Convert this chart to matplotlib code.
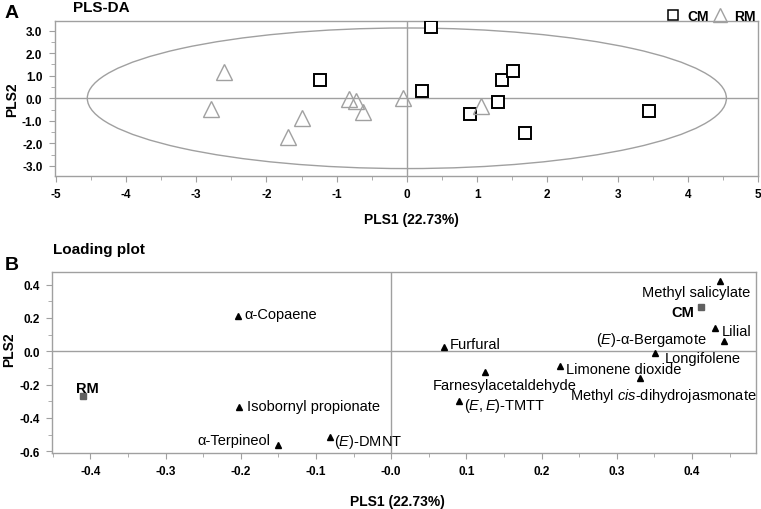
import numpy as np
import matplotlib
matplotlib.use("Agg")
from matplotlib import pyplot as plt
from matplotlib.patches import Ellipse
from matplotlib.ticker import MultipleLocator, FixedLocator, FixedFormatter

plt.rcParams['font.family'] = ['Liberation Sans', 'DejaVu Sans']
plt.rcParams['mathtext.fontset'] = 'custom'
plt.rcParams['mathtext.rm'] = 'Liberation Sans'
plt.rcParams['mathtext.it'] = 'Liberation Sans:italic'
plt.rcParams['axes.unicode_minus'] = False

# panel A : PLS-DA scores
cm_x = [0.35, 0.22, 1.36, 1.51, 1.30, 0.90, 1.68, 3.45, -1.23]
cm_y = [3.16, 0.34, 0.81, 1.21, -0.16, -0.70, -1.53, -0.56, 0.79]
rm_x = [-2.60, -2.79, -1.50, -1.69, -0.82, -0.72, -0.63, -0.05, 1.05]
rm_y = [1.16, -0.47, -0.86, -1.70, -0.03, -0.10, -0.62, 0.03, -0.34]
ellipse_a = 4.55
ellipse_b = 3.12

# panel B : loading plot
compounds = ["α-Copaene", "Isobornyl propionate", "α-Terpineol", "($\\it{E}$)-DMNT",
             "Furfural", "Farnesylacetaldehyde", "($\\it{E,E}$)-TMTT", "Limonene dioxide",
             "Longifolene", "Methyl $\\it{cis}$-dihydrojasmonate", "Methyl salicylate",
             "Lilial", "($\\it{E}$)-α-Bergamote"]
load_x = [-0.204, -0.203, -0.151, -0.081, 0.070, 0.125, 0.090, 0.224,
          0.351, 0.331, 0.437, 0.431, 0.442]
load_y = [0.21, -0.336, -0.56, -0.517, 0.028, -0.126, -0.30, -0.09,
          -0.01, -0.162, 0.422, 0.14, 0.06]
groups = ["RM", "CM"]
group_x = [-0.41, 0.412]
group_y = [-0.267, 0.268]

xticks_b = [-0.4, -0.3, -0.2, -0.1, 0.0, 0.1, 0.2, 0.3, 0.4]
xticklabels_b = ["-0.4", "-0.3", "-0.2", "-0.1", "-0.0", "0.1", "0.2", "0.3", "0.4"]

# label offsets in pixels (dx, dy, ha)
offsets = [(7, 2, "left"), (8, 1, "left"), (-7, 5, "right"), (4, -4, "left"),
           (6, 3, "left"), (19, -13, "center"), (5, -4, "left"), (6, -3, "left"),
           (10, -5, "left"), (23, -17, "center"), (30, -11, "right"),
           (6, -3, "left"), (-17, 2, "right")]
group_offsets = [(5, 8, "center"), (-7, -5, "right")]

GRAY = "#a0a0a0"


def style_axes(ax):
    for s in ax.spines.values():
        s.set_color(GRAY)
        s.set_linewidth(1)
    ax.tick_params(which="both", direction="out", color=GRAY, labelsize=8.5)
    ax.tick_params(which="major", length=4, pad=5)
    ax.tick_params(which="minor", length=3)
    for lab in ax.get_xticklabels() + ax.get_yticklabels():
        lab.set_fontweight("bold")


fig = plt.figure(figsize=(7.61, 5.10), dpi=100)
W, H = 761.0, 510.0

# ---------- panel A
axA = fig.add_axes([55 / W, 1 - 177 / H, 703 / W, 155 / H])
axA.set_xlim(-5.01, 5.0)
axA.set_ylim(-3.45, 3.43)
axA.axhline(0, color=GRAY, lw=1, zorder=1)
axA.axvline(0, color=GRAY, lw=1, zorder=1)
axA.add_patch(Ellipse((0, 0), 2 * ellipse_a, 2 * ellipse_b, fill=False,
                      edgecolor=GRAY, lw=1, zorder=1))
axA.plot(cm_x, cm_y, "s", ms=8, mfc="white", mec="black", mew=1.4, ls="none",
         label="CM", zorder=3)
axA.plot(rm_x, rm_y, "^", ms=11, mfc="none", mec=GRAY, mew=1, ls="none",
         label="RM", zorder=3)
axA.xaxis.set_major_locator(MultipleLocator(1))
axA.xaxis.set_minor_locator(MultipleLocator(0.5))
axA.yaxis.set_major_locator(MultipleLocator(1))
axA.yaxis.set_minor_locator(MultipleLocator(0.5))
axA.yaxis.set_major_formatter(matplotlib.ticker.FormatStrFormatter("%.1f"))
style_axes(axA)
leg = axA.legend(loc="lower right", bbox_to_anchor=(0.996, 0.985), ncol=2, frameon=False,
                 handletextpad=0.55, columnspacing=0.35, borderpad=0, borderaxespad=0,
                 handlelength=0.9, markerscale=0.9,
                 prop={"weight": "bold", "size": 10})
leg.legend_handles[0].set_markeredgewidth(1.1)

fig.text(12 / W, 1 - 14 / H, "A", fontsize=14, fontweight="bold", ha="center", va="center")
fig.text(73 / W, 1 - 8 / H, "PLS-DA", fontsize=11, fontweight="bold", ha="left", va="center")
fig.text(411 / W, 1 - 220 / H, "PLS1 (22.73%)", fontsize=10, fontweight="bold",
         ha="center", va="center")
fig.text(12 / W, 1 - 100 / H, "PLS2", fontsize=10, fontweight="bold", rotation=90,
         ha="center", va="center")

# ---------- panel B
axB = fig.add_axes([52 / W, 1 - 454 / H, 704 / W, 180.7 / H])
axB.set_xlim(-0.451, 0.485)
axB.set_ylim(-0.61, 0.474)
axB.axhline(0, color=GRAY, lw=1, zorder=1)
axB.axvline(0, color=GRAY, lw=1, zorder=1)
axB.plot(load_x, load_y, "^", ms=5, color="black", ls="none", zorder=3)
axB.plot(group_x, group_y, "s", ms=4, color="#606060", ls="none", zorder=3)
for name, x, y, (dx, dy, ha) in zip(compounds, load_x, load_y, offsets):
    axB.annotate(name, (x, y), xytext=(dx, dy), textcoords="offset pixels",
                 ha=ha, va="center", fontsize=10.5)
for name, x, y, (dx, dy, ha) in zip(groups, group_x, group_y, group_offsets):
    axB.annotate(name, (x, y), xytext=(dx, dy), textcoords="offset pixels",
                 ha=ha, va="center", fontsize=10.5, fontweight="bold")
axB.xaxis.set_major_locator(FixedLocator(xticks_b))
axB.xaxis.set_major_formatter(FixedFormatter(xticklabels_b))
axB.xaxis.set_minor_locator(MultipleLocator(0.05))
axB.yaxis.set_major_locator(MultipleLocator(0.2))
axB.yaxis.set_minor_locator(MultipleLocator(0.1))
axB.yaxis.set_major_formatter(matplotlib.ticker.FormatStrFormatter("%.1f"))
style_axes(axB)

fig.text(12 / W, 1 - 266 / H, "B", fontsize=14, fontweight="bold", ha="center", va="center")
fig.text(53 / W, 1 - 250 / H, "Loading plot", fontsize=11, fontweight="bold",
         ha="left", va="center")
fig.text(397 / W, 1 - 502 / H, "PLS1 (22.73%)", fontsize=10, fontweight="bold",
         ha="center", va="center")
fig.text(9 / W, 1 - 350 / H, "PLS2", fontsize=10, fontweight="bold", rotation=90,
         ha="center", va="center")

fig.savefig("out.png", dpi=100)
plt.close()
